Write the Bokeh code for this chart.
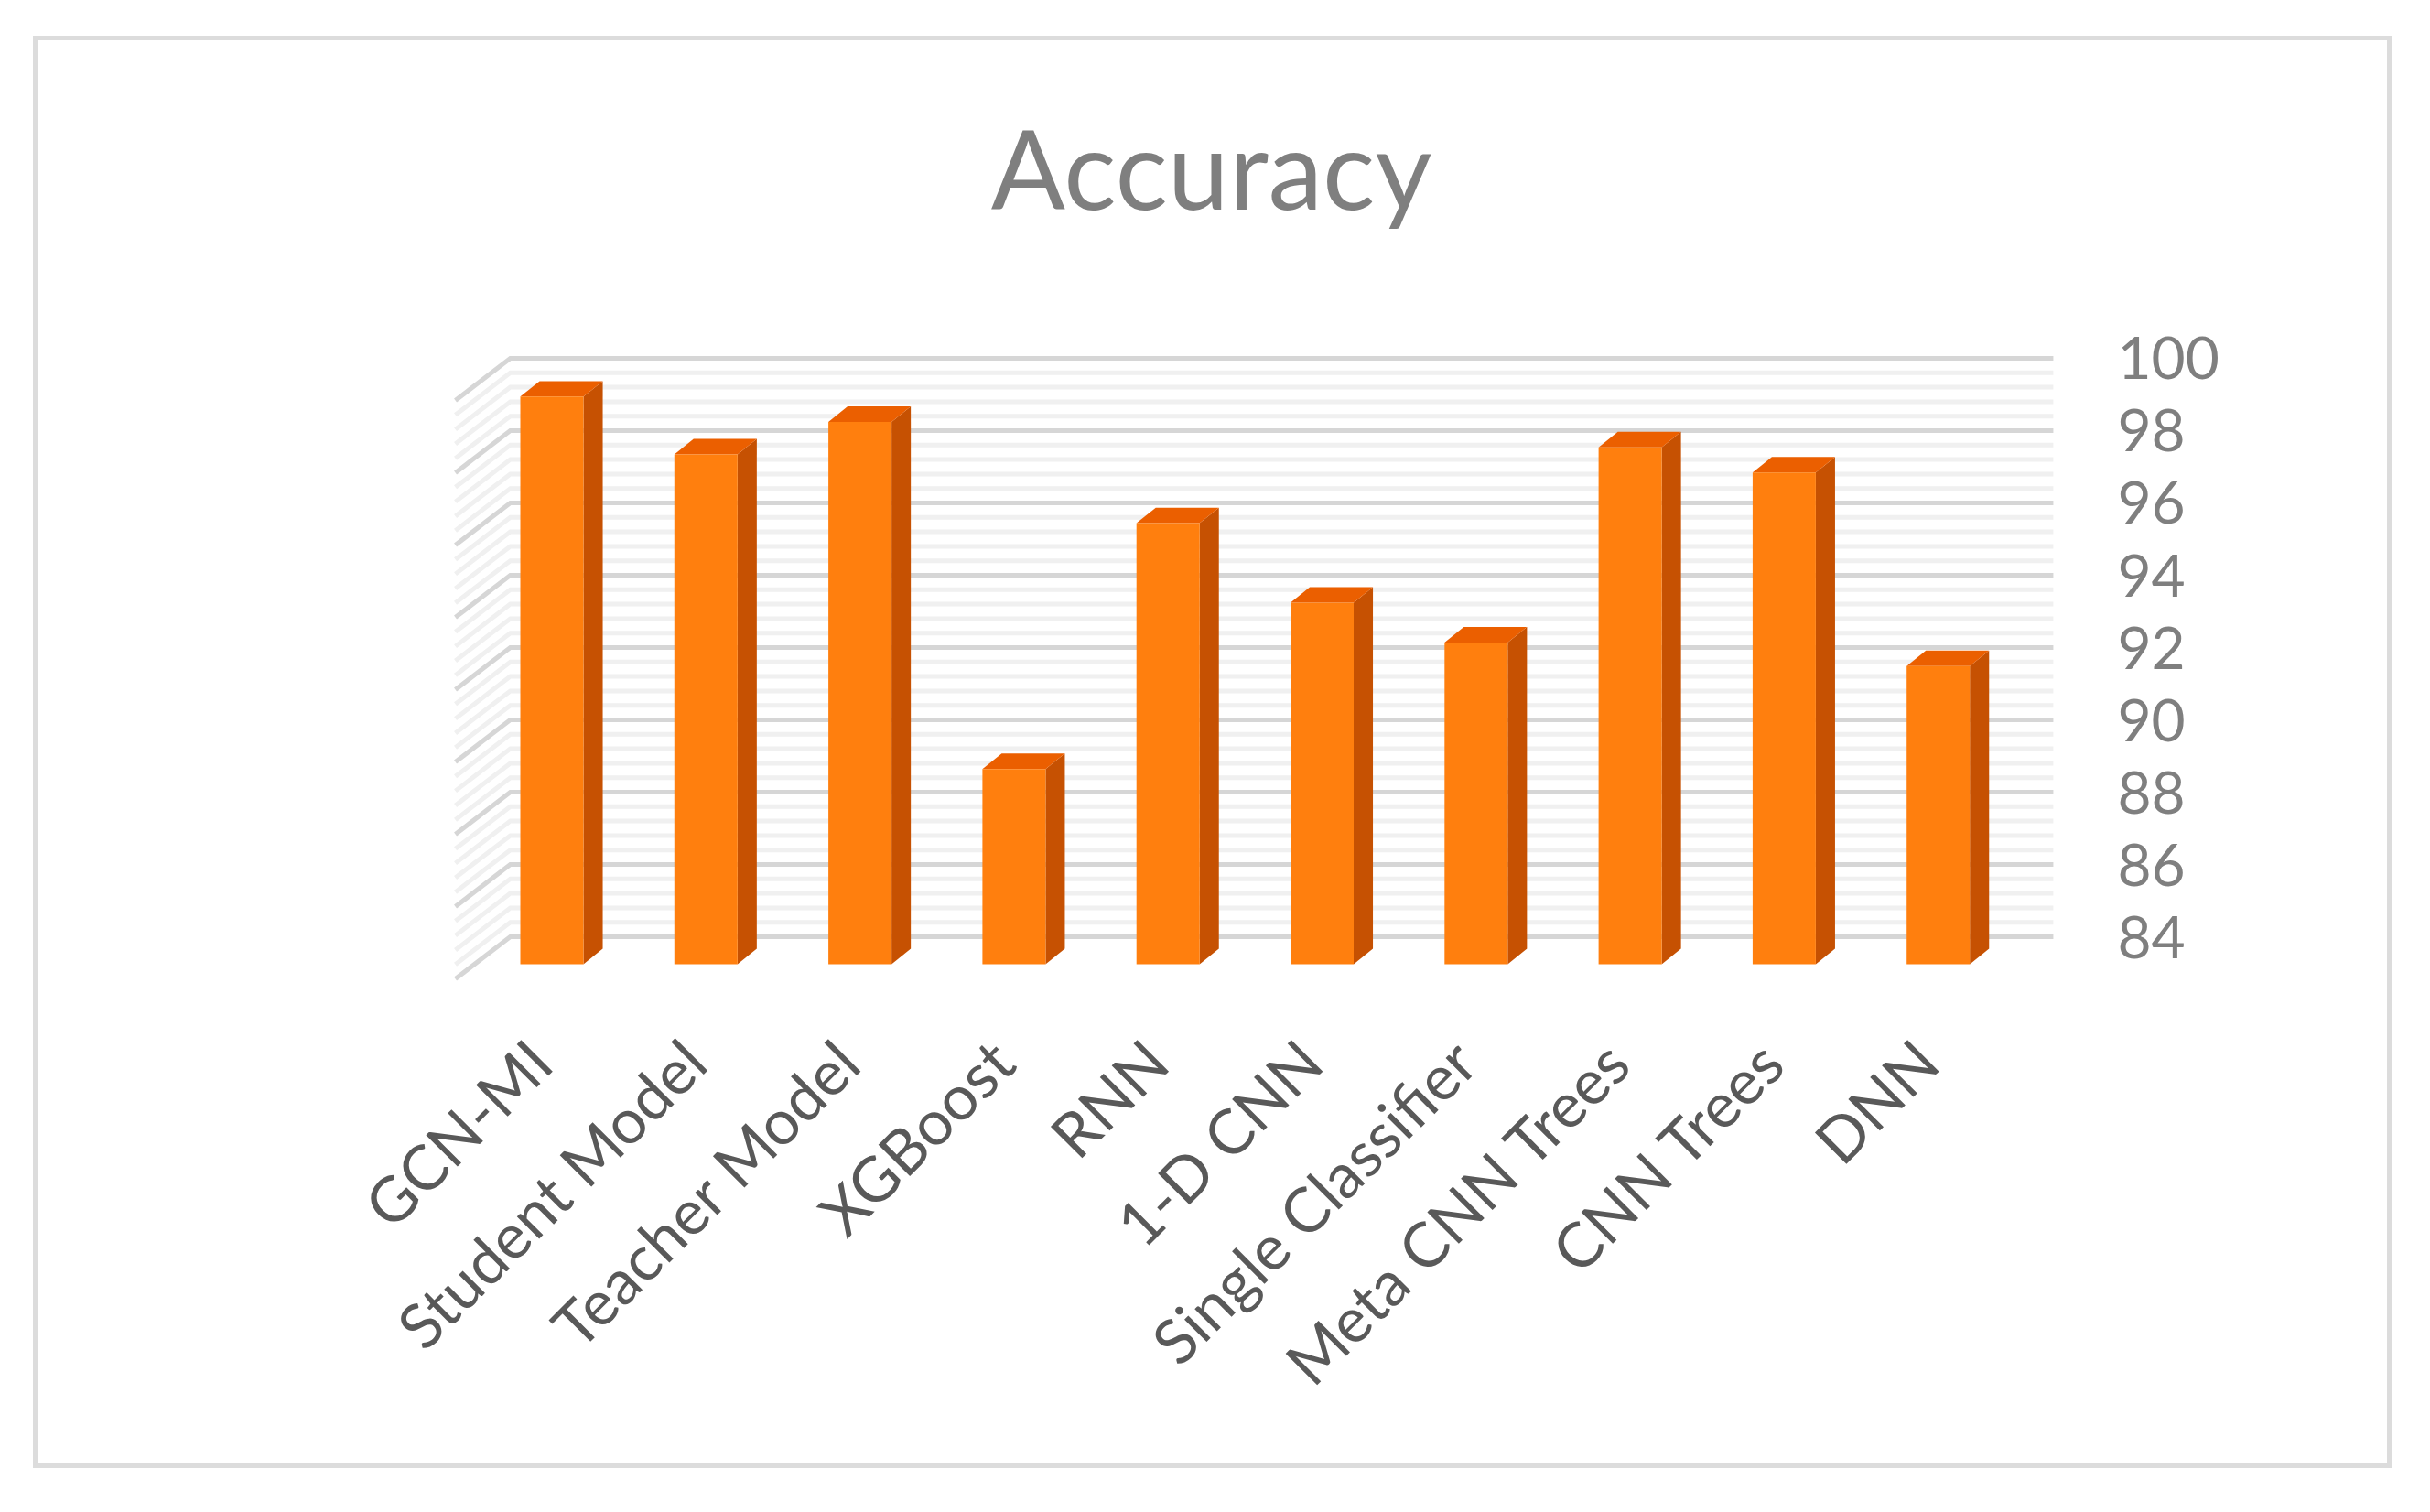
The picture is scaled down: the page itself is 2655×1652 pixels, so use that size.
from bokeh.plotting import figure
from bokeh.embed import file_html
from bokeh.resources import INLINE
from bokeh.models import Range1d, LinearAxis, FixedTicker, Label

title_text = "Accuracy"
categories = ["GCN-MI", "Student Model", "Teacher Model", "XGBoost", "RNN", "1-D CNN",
              "Single Classifier", "Meta CNN Trees", "CNN Trees", "DNN"]
accuracy = [99.7, 98.1, 99.0, 89.4, 96.2, 94.0, 92.9, 98.3, 97.6, 92.25]
major_ticks = [84, 86, 88, 90, 92, 94, 96, 98, 100]
minor_ticks = [84 + 0.4 * k for k in range(41) if k % 5]
BASE = 84

# oblique projection, in data units
WALL_X0, WALL_X1 = -0.27, 9.747
SIDE_DX, SIDE_DY = -0.3565, -1.165
BAR_HALF = 0.205
BAR_DX, BAR_DY = 0.125, 0.43
FRONT_DY = -0.76
LABEL_SHIFT = -0.08

p = figure(width=2567, height=1555, output_backend="svg", toolbar_location=None,
           x_range=Range1d(-1.227, 9.789), y_range=Range1d(81.418, 107.62),
           min_border_left=355, min_border_right=358, min_border_top=46, min_border_bottom=474,
           background_fill_color="white", border_fill_color="white", outline_line_color=None,
           y_axis_location=None, margin=(44, 0, 0, 41))
p.styles = {"outline": "5px solid #DCDCDC"}
p.grid.visible = False

def wall(ticks, color, width):
    for t in ticks:
        p.line([WALL_X0 + SIDE_DX, WALL_X0, WALL_X1], [t + SIDE_DY, t, t],
               line_color=color, line_width=width, line_join="miter")

wall(minor_ticks, "#F0F0F0", 5)
wall(major_ticks, "#D6D6D6", 5)

for i, v in enumerate(accuracy):
    l, r = i - BAR_HALF, i + BAR_HALF
    b, t = BASE + FRONT_DY, v + FRONT_DY
    p.patch([r, r + BAR_DX, r + BAR_DX, r], [b, b + BAR_DY, t + BAR_DY, t], fill_color="#C65102", line_color=None)
    p.patch([l, l + BAR_DX, r + BAR_DX, r], [t, t + BAR_DY, t + BAR_DY, t], fill_color="#EB5F00", line_color=None)
    p.quad(left=l, right=r, bottom=b, top=t, fill_color="#FF7F0E", line_color=None)

# category axis
xa = p.xaxis[0]
xa.ticker = FixedTicker(ticks=[i + LABEL_SHIFT for i in range(len(categories))])
xa.major_label_overrides = {i + LABEL_SHIFT: c for i, c in enumerate(categories)}
xa.major_label_orientation = 0.785398
xa.major_label_text_font = "Lato"
xa.major_label_text_font_size = "68px"
xa.major_label_text_color = "#595959"
xa.major_label_standoff = 16
xa.axis_line_color = None
xa.major_tick_line_color = None
xa.minor_tick_line_color = None

# value axis
ya = LinearAxis(ticker=FixedTicker(ticks=major_ticks))
ya.major_label_text_font = "Lato"
ya.major_label_text_font_size = "64px"
ya.major_label_text_color = "#7F7F7F"
ya.major_label_standoff = 57
ya.axis_line_color = None
ya.major_tick_line_color = None
ya.minor_tick_line_color = None
p.add_layout(ya, "right")

p.add_layout(Label(x=4.281, y=105.27, text=title_text, text_align="center", text_baseline="alphabetic",
                   text_font="Lato", text_font_size="120px", text_color="#7F7F7F"))

open("out.html", "w").write(file_html(p, INLINE))
